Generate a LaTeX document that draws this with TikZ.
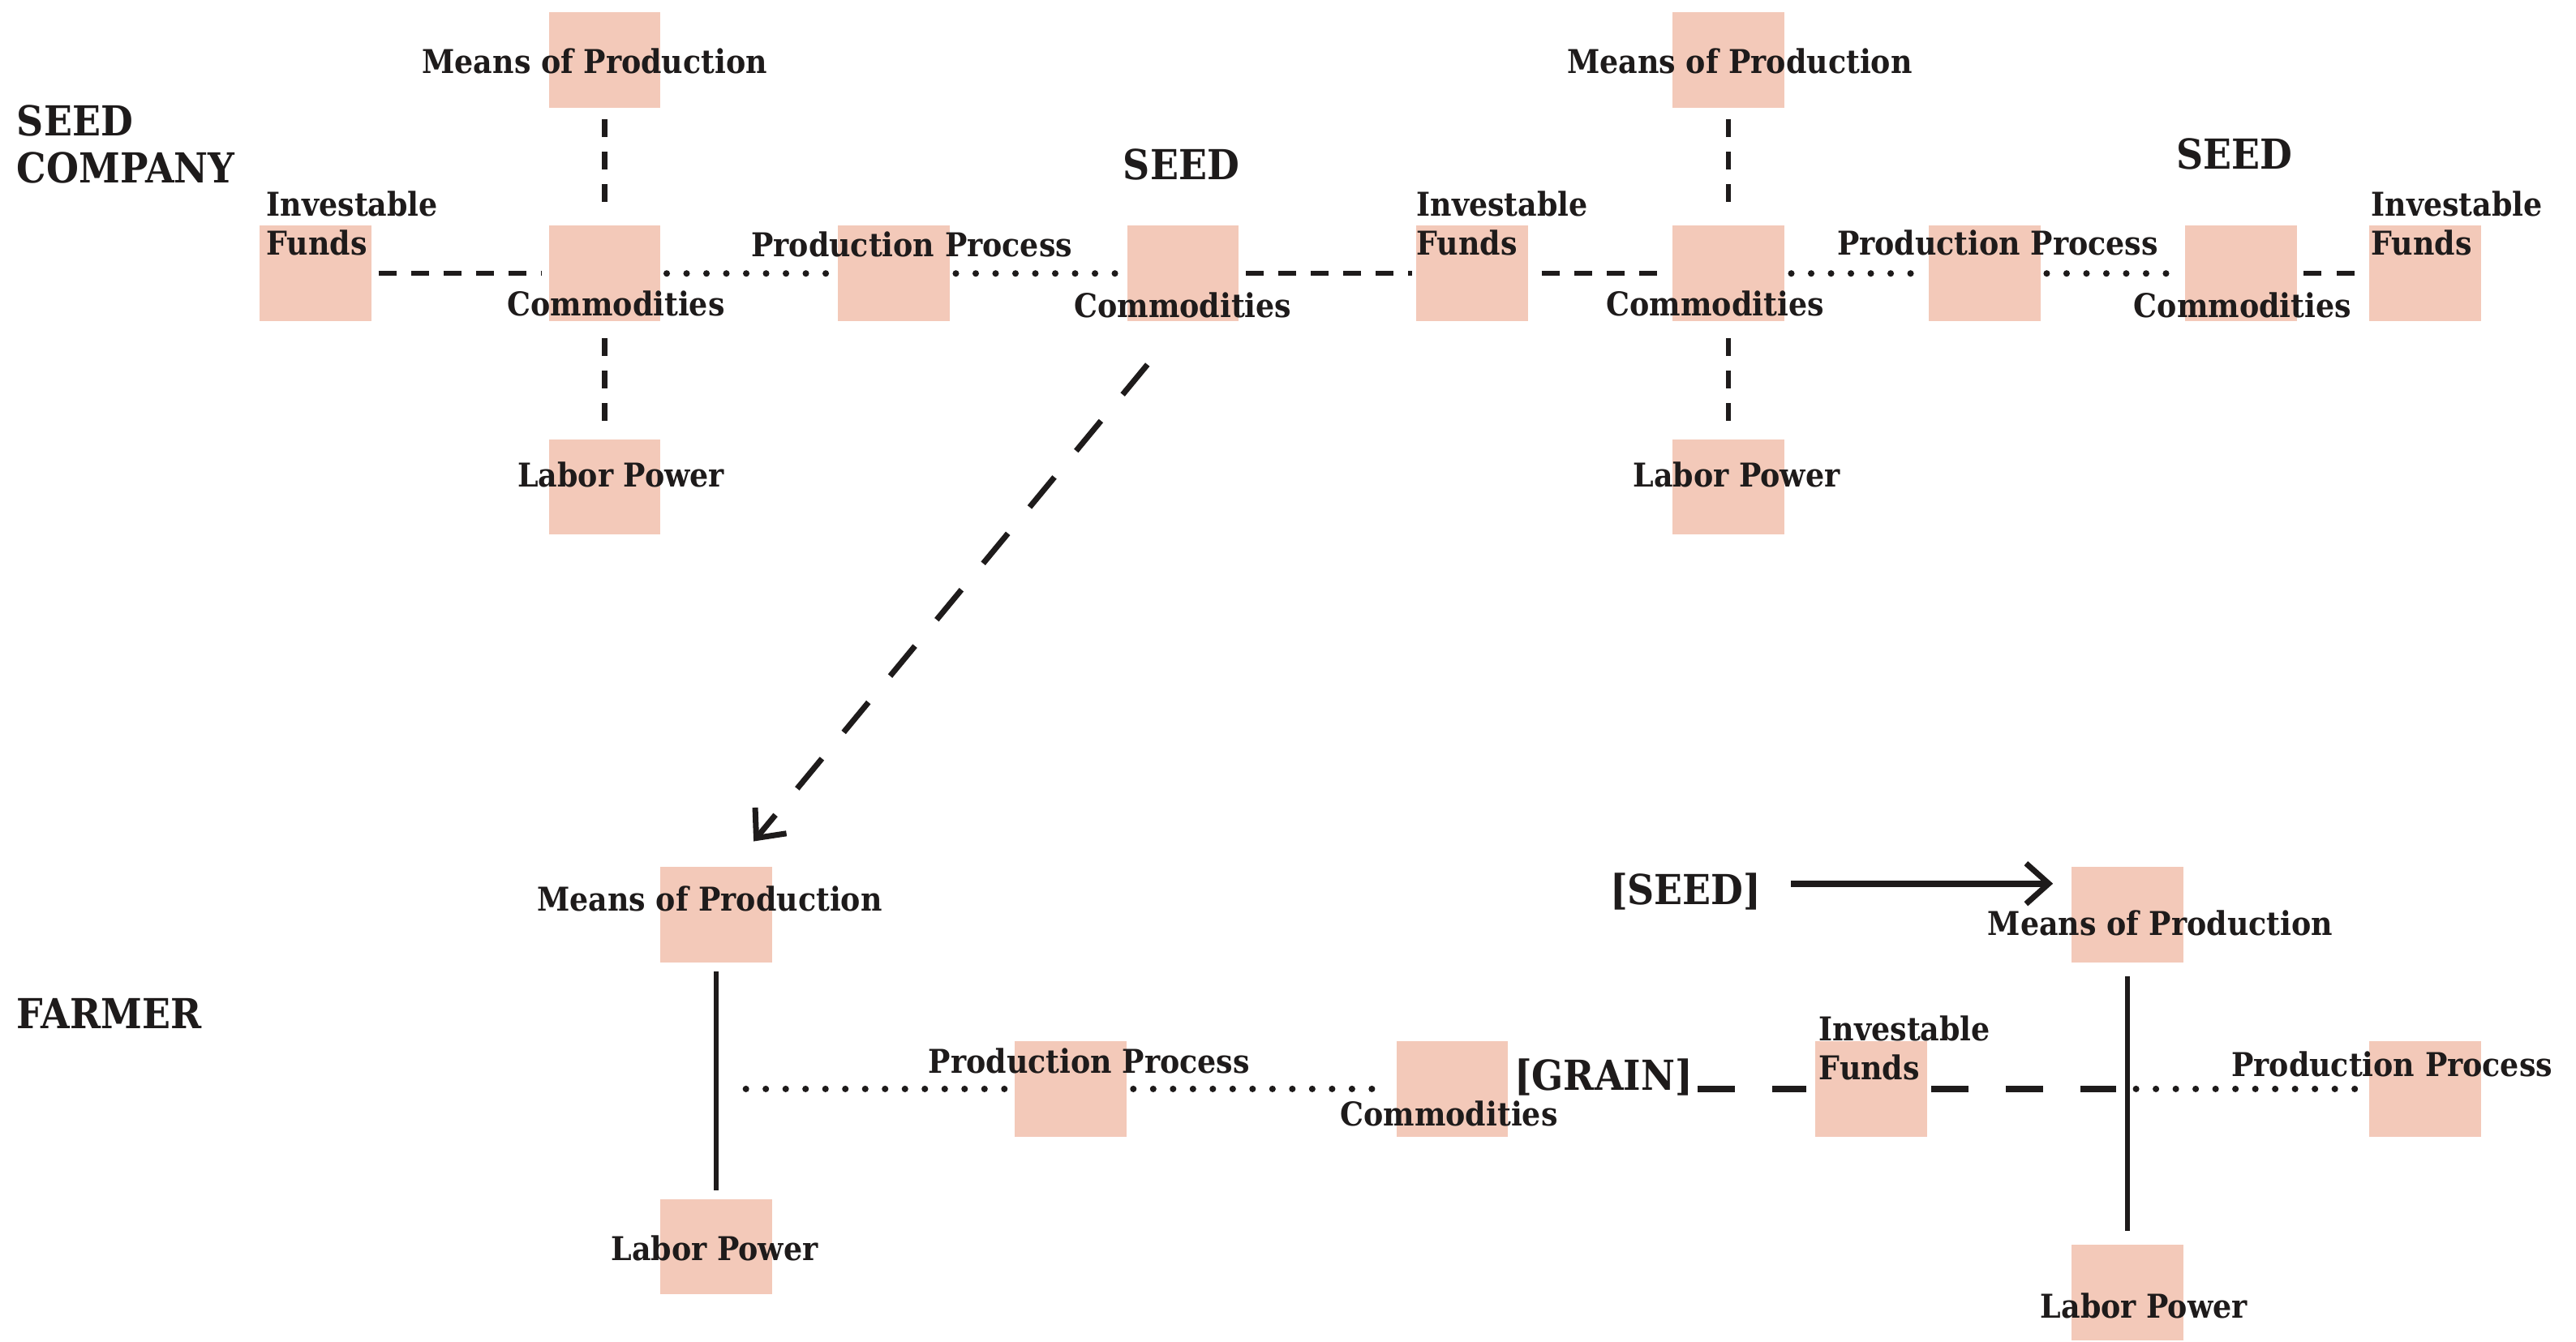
\documentclass[tikz,border=0pt]{standalone}
\usepackage{fontspec}
\setmainfont{DejaVu Serif Condensed}
\usetikzlibrary{calc,arrows.meta}
\definecolor{ink}{HTML}{1E1B1B}
\definecolor{peach}{HTML}{F3C9B9}
\tikzset{
  box/.style={fill=peach, minimum width=1.377cm, minimum height=1.175cm, inner sep=0pt},
  lab/.style={text=ink, font=\bfseries\fontsize{11.5}{13.8}\selectfont, inner sep=0pt},
  labl/.style={lab, align=left, anchor=west},
  head/.style={text=ink, font=\bfseries\fontsize{14.5}{16.5}\selectfont, inner sep=0pt},
  dashln/.style={draw=ink, line width=1.8pt, dash pattern=on 0.22cm off 0.18cm},
  longdash/.style={draw=ink, line width=2.4pt, dash pattern=on 0.46cm off 0.46cm},
  dotln/.style={draw=ink, line width=2.3pt, line cap=round, dash pattern=on 0pt off 0.245cm},
  firm/.style={draw=ink, line width=1.8pt},
  flow/.style={draw=ink, line width=2.2pt, -{Straight Barb[length=0.28cm, width=0.5cm, line width=2pt]}},
  drop/.style={draw=ink, line width=2pt, dash pattern=on 0.48cm off 0.42cm, -{Straight Barb[length=0.28cm, width=0.5cm, line width=2pt]}},
}
\begin{document}
\begin{tikzpicture}[x=0.020255cm, y=-0.020255cm]
  \useasboundingbox (0,0) rectangle (1568,817);

  % seed company
  \node[head, align=left, anchor=west] (firm1) at (10,88) {SEED\\COMPANY};
  \node[box] (fund1) at (192,166.5) {};
  \node[box] (mop1) at (368,36.5) {};
  \node[box] (com1) at (368,166.5) {};
  \node[box] (lp1) at (368,296.5) {};
  \node[box] (pp1) at (544,166.5) {};
  \node[box] (com2) at (720,166.5) {};
  \node[box] (fund2) at (896,166.5) {};
  \node[box] (mop2) at (1052,36.5) {};
  \node[box] (com3) at (1052,166.5) {};
  \node[box] (lp2) at (1052,296.5) {};
  \node[box] (pp2) at (1208,166.5) {};
  \node[box] (com4) at (1364,166.5) {};
  \node[box] (fund3) at (1476,166.5) {};

  \node[labl] (fund1t) at (162,136) {Investable\\Funds};
  \node[lab] (mop1t) at (362,37) {Means of Production};
  \node[lab] (com1t) at (375,185) {Commodities};
  \node[lab] (lp1t) at (378,289) {Labor Power};
  \node[lab] (pp1t) at (555,149) {Production Process};
  \node[head] (seed1) at (719,100) {SEED};
  \node[lab] (com2t) at (720,186) {Commodities};
  \node[labl] (fund2t) at (862,136) {Investable\\Funds};
  \node[lab] (mop2t) at (1059,37) {Means of Production};
  \node[lab] (com3t) at (1044,185) {Commodities};
  \node[lab] (lp2t) at (1057,289) {Labor Power};
  \node[lab] (pp2t) at (1216,148) {Production Process};
  \node[head] (seed2) at (1360,94) {SEED};
  \node[lab] (com4t) at (1365,186) {Commodities};
  \node[labl] (fund3t) at (1443,136) {Investable\\Funds};

  \draw[dashln, shorten <=2.3pt, shorten >=2.3pt] (fund1) -- (com1);
  \draw[dotln, shorten <=2pt, shorten >=2pt] (com1) -- (pp1);
  \draw[dotln, shorten <=2pt, shorten >=2pt] (pp1) -- (com2);
  \draw[dashln, shorten <=2.3pt, shorten >=1.2pt] (com2) -- (fund2);
  \draw[dashln, shorten <=4.6pt, shorten >=4.6pt] (fund2) -- (com3);
  \draw[dotln, shorten <=2.3pt, shorten >=2.3pt] (com3) -- (pp2);
  \draw[dotln, shorten <=2pt, shorten >=2.5pt] (pp2) -- (com4);
  \draw[dashln, shorten <=2.3pt, shorten >=1.2pt] (com4) -- (fund3);
  \draw[dashln, shorten <=4pt, shorten >=4.6pt] (mop1) -- (com1);
  \draw[dashln, shorten <=5.8pt, shorten >=3.5pt] (com1) -- (lp1);
  \draw[dashln, shorten <=4pt, shorten >=4.6pt] (mop2) -- (com3);
  \draw[dashln, shorten <=5.8pt, shorten >=3.5pt] (com3) -- (lp2);

  % farmer
  \node[head, anchor=west] (firm2) at (10,617) {FARMER};
  \node[box] (mop3) at (436,557) {};
  \node[box] (lp3) at (436,759) {};
  \node[box] (pp3) at (651.5,663) {};
  \node[box] (com5) at (884,663) {};
  \node[box] (fund4) at (1139,663) {};
  \node[box] (mop4) at (1295,557) {};
  \node[box] (lp4) at (1295,787) {};
  \node[box] (pp4) at (1476,663) {};
  \coordinate (j3) at (mop3.south |- pp3.center);
  \coordinate (j4) at (mop4.south |- fund4.center);

  \node[lab] (mop3t) at (432,547) {Means of Production};
  \node[lab] (lp3t) at (435,760) {Labor Power};
  \node[lab] (pp3t) at (663,646) {Production Process};
  \node[lab] (com5t) at (882,678) {Commodities};
  \node[head] (grain) at (976,656) {[GRAIN]};
  \node[labl] (fund4t) at (1107,638) {Investable\\Funds};
  \node[head] (seedb) at (1026,543) {[SEED]};
  \node[lab] (mop4t) at (1315,562) {Means of Production};
  \node[lab] (lp4t) at (1305,795) {Labor Power};
  \node[lab] (pp4t) at (1456,648) {Production Process};

  \draw[firm, shorten <=2.9pt, shorten >=2.9pt] (mop3) -- (lp3);
  \draw[firm, shorten <=4.6pt, shorten >=4.6pt] (mop4) -- (lp4);
  \draw[dotln, shorten <=10.4pt, shorten >=1.2pt] (j3) -- (pp3);
  \draw[dotln, shorten <=2.3pt, shorten >=2.9pt] (pp3) -- (com5);
  \draw[longdash, shorten <=1.7pt, shorten >=2.9pt] (grain.east |- fund4) -- (fund4.west);
  \draw[longdash, shorten <=1.2pt, shorten >=4pt] (fund4) -- (j4);
  \draw[dotln, shorten <=3pt, shorten >=1.2pt] (j4) -- (pp4);
  \draw[flow] ($(seedb.east)+(18,-5)$) -- ($(seedb.east -| mop4.west)+(-11,-5)$);
  \draw[drop, shorten <=19.5pt, shorten >=11.5pt] (com2.south) -- ($(mop3.north)+(10,0)$);
\end{tikzpicture}
\end{document}
